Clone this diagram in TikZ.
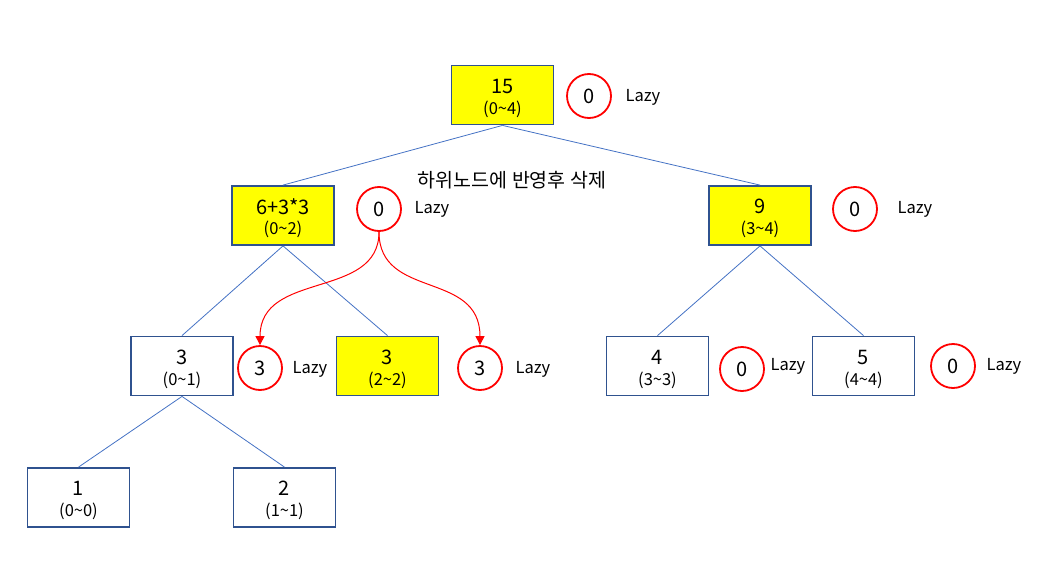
\documentclass[tikz,border=0pt]{standalone}
\usepackage{fontspec}
\setmainfont{Noto Sans CJK KR}
\usetikzlibrary{arrows.meta}
\definecolor{boxline}{HTML}{2F528F}
\definecolor{edgeblue}{HTML}{4472C4}
\definecolor{lazyred}{HTML}{FF0000}
\definecolor{hilite}{HTML}{FFFF00}
\tikzset{
  seg/.style={draw=boxline, line width=1.8pt, minimum width=102pt, minimum height=59pt, inner sep=0pt},
  hl/.style={seg, fill=hilite},
  numt/.style={font=\fontsize{20}{23}\selectfont, inner sep=0pt},
  rngt/.style={font=\fontsize{16.5}{19}\selectfont, inner sep=0pt},
  lazyc/.style={draw=lazyred, line width=1.8pt, circle, minimum size=44pt, inner sep=0pt, font=\fontsize{20}{23}\selectfont},
  lazyt/.style={font=\fontsize{16.5}{19}\selectfont, inner sep=0pt},
  tedge/.style={draw=edgeblue, line width=0.8pt},
  push/.style={draw=lazyred, line width=1pt, -{Triangle[length=9pt,width=9pt]}},
}
\newcommand{\segnode}[5]{%
  \node[#1] (#2) at #3 {};
  \node[numt] (#2-v) at ([yshift=9pt]#2.center) {#4};
  \node[rngt] (#2-r) at ([yshift=-14pt]#2.center) {#5};}
\begin{document}
\begin{tikzpicture}[x=1pt,y=-1pt]
\useasboundingbox (0,0) rectangle (1054,578);
% segment nodes
\segnode{hl}{n04}{(502.5,95)}{15}{(0\textasciitilde 4)}
\segnode{hl}{n02}{(283,215.5)}{6+3*3}{(0\textasciitilde 2)}
\segnode{hl}{n34}{(760,215.5)}{9}{(3\textasciitilde 4)}
\segnode{seg}{n01}{(182,366)}{3}{(0\textasciitilde 1)}
\segnode{hl}{n22}{(387.5,366)}{3}{(2\textasciitilde 2)}
\segnode{seg}{n33}{(657.5,366)}{4}{(3\textasciitilde 3)}
\segnode{seg}{n44}{(863.5,366)}{5}{(4\textasciitilde 4)}
\segnode{seg}{n00}{(78.5,497.5)}{1}{(0\textasciitilde 0)}
\segnode{seg}{n11}{(284.5,497.5)}{2}{(1\textasciitilde 1)}
% lazy circles
\node[lazyc] (c04) at (589,96)  {0};
\node[lazyc] (c02) at (379,209) {0};
\node[lazyc] (c34) at (855,209) {0};
\node[lazyc] (c01) at (260,368) {3};
\node[lazyc] (c22) at (480,368) {3};
\node[lazyc] (c33) at (742,369) {0};
\node[lazyc] (c44) at (953,366) {0};
% lazy labels
\node[lazyt] (l04) at (643,97)  {Lazy};
\node[lazyt] (l02) at (432,209) {Lazy};
\node[lazyt] (l34) at (915,209) {Lazy};
\node[lazyt] (l01) at (310,369) {Lazy};
\node[lazyt] (l22) at (533,369) {Lazy};
\node[lazyt] (l33) at (788,366) {Lazy};
\node[lazyt] (l44) at (1004,366) {Lazy};
% note
\node[font=\fontsize{19.5}{23}\selectfont, inner sep=0pt] (note) at (512,180) {하위노드에 반영후 삭제};
% tree edges
\draw[tedge] (n04.south) -- (n02.north);
\draw[tedge] (n04.south) -- (n34.north);
\draw[tedge] (n02.south) -- (n01.north);
\draw[tedge] (n02.south) -- (n22.north);
\draw[tedge] (n34.south) -- (n33.north);
\draw[tedge] (n34.south) -- (n44.north);
\draw[tedge] (n01.south) -- (n00.north);
\draw[tedge] (n01.south) -- (n11.north);
% lazy propagation arrows
\draw[push] (c02.south) .. controls (379,300) and (260,270) .. (c01.north);
\draw[push] (c02.south) .. controls (379,300) and (480,270) .. (c22.north);
\end{tikzpicture}
\end{document}
